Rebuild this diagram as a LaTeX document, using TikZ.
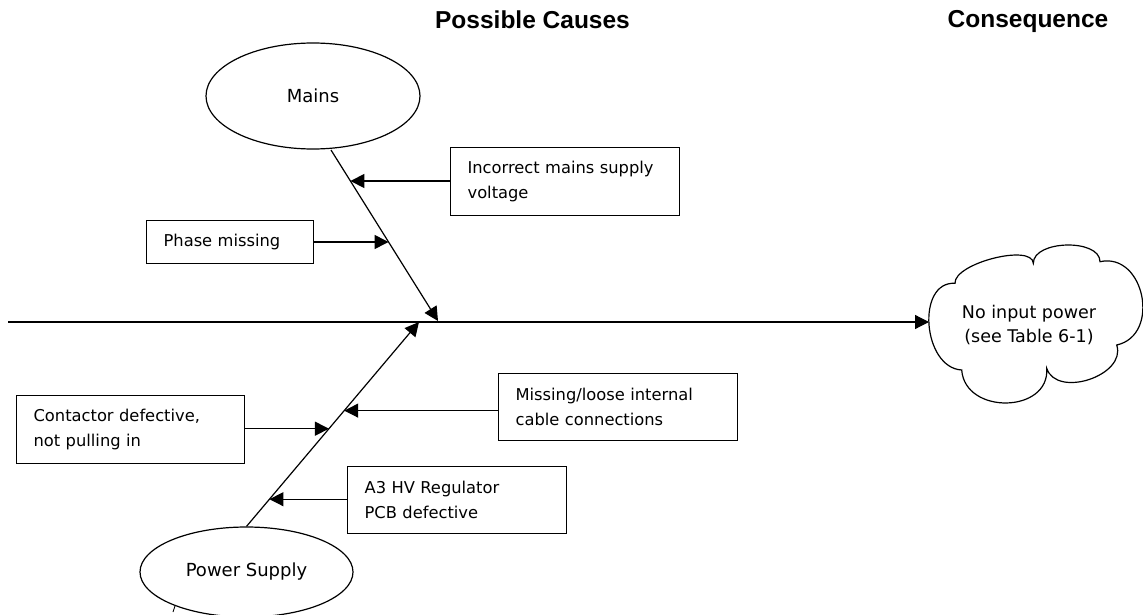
\documentclass[tikz,border=0pt]{standalone}
\usepackage{fontspec}
\setmainfont{DejaVu Sans}
\newfontfamily\titlefont{Liberation Sans}
\usetikzlibrary{arrows.meta,shapes.geometric,calc}
\begin{document}
\begin{tikzpicture}[x=1pt,y=-1pt,
  txt/.style={font=\fontsize{16.3}{24.5}\selectfont},
  bigtxt/.style={font=\fontsize{17.5}{24.5}\selectfont},
  ttl/.style={font=\titlefont\bfseries\fontsize{24.5}{28}\selectfont,anchor=base},
  box/.style={draw,line width=1.2pt,txt,anchor=north west,align=left,inner xsep=17pt,inner ysep=0pt},
  oval/.style={draw,ellipse,line width=1.2pt,font=\fontsize{18}{22}\selectfont,inner sep=0pt},
  ln/.style={line width=1.2pt},
  arr/.style={line width=1.2pt,-{Triangle[length=14pt,width=14pt]}}]
\useasboundingbox (0,0) rectangle (1143,615);

% titles
\node[ttl] (t_causes) at (532.5,29) {Possible Causes};
\node[ttl] (t_cons) at (1028,28) {Consequence};

% ellipses
\node[oval,minimum width=214pt,minimum height=106pt] (mains) at (313,96) {Mains};
\node[oval,minimum width=213pt,minimum height=90pt] (power) at (246.5,572) {Power Supply};

% boxes
\node[box,text width=195pt,minimum height=68pt] (inc) at (450,147) {Incorrect mains supply\\voltage};
\node[box,text width=133pt,minimum height=43pt] (phase) at (146,220) {Phase missing};
\node[box,text width=194pt,minimum height=68pt] (cont) at (16,395) {Contactor defective,\\not pulling in};
\node[box,text width=205pt,minimum height=67pt] (miss) at (498,373) {Missing/loose internal\\cable connections};
\node[box,text width=185pt,minimum height=67pt] (a3) at (347,466) {A3 HV Regulator\\PCB defective};

% cloud
\draw[ln] (961.7,370)
  .. controls (922.6,367.8) and (915.9,281.1) .. (955,283.3)
  .. controls (953.9,263.3) and (1032.2,243.3) .. (1033.3,263.3)
  .. controls (1033.3,240) and (1100,238.4) .. (1100,261.7)
  .. controls (1144.5,251.9) and (1161.2,335.2) .. (1116.7,345)
  .. controls (1126.8,375.4) and (1056.8,398.7) .. (1046.7,368.3)
  .. controls (1050,413.4) and (965,415.1) .. cycle;
\node[bigtxt,align=center] (cons) at (1029,325) {No input power\\(see Table 6-1)};

% spines
\coordinate (ms) at (331,150);
\coordinate (me) at (438,321);
\coordinate (pe) at (419,322);
\coordinate (ml) at (8,322);
\coordinate (cw) at (929,322);
\draw[arr] (ml) -- (cw);
\draw[arr] (ms) -- (me);
\draw[arr] (power.north) -- (pe);

% cause arrows
\coordinate (t1) at ($(ms)!0.1813!(me)$);
\coordinate (t2) at ($(ms)!0.538!(me)$);
\coordinate (t3) at ($(power.north)!0.478!(pe)$);
\coordinate (t4) at ($(power.north)!0.5665!(pe)$);
\coordinate (t5) at ($(power.north)!0.133!(pe)$);
\draw[arr] (inc.west |- t1) -- (t1);
\draw[arr] (phase.east |- t2) -- (t2);
\draw[arr] (cont.east |- t3) -- (t3);
\draw[arr] (miss.west |- t4) -- (t4);
\draw[arr] (a3.west |- t5) -- (t5);

% small stray tick below the power supply ellipse
\coordinate (tk1) at (175,606);
\coordinate (tk2) at (173,612);
\draw[line width=0.8pt] (tk1) -- (tk2);
\end{tikzpicture}
\end{document}
